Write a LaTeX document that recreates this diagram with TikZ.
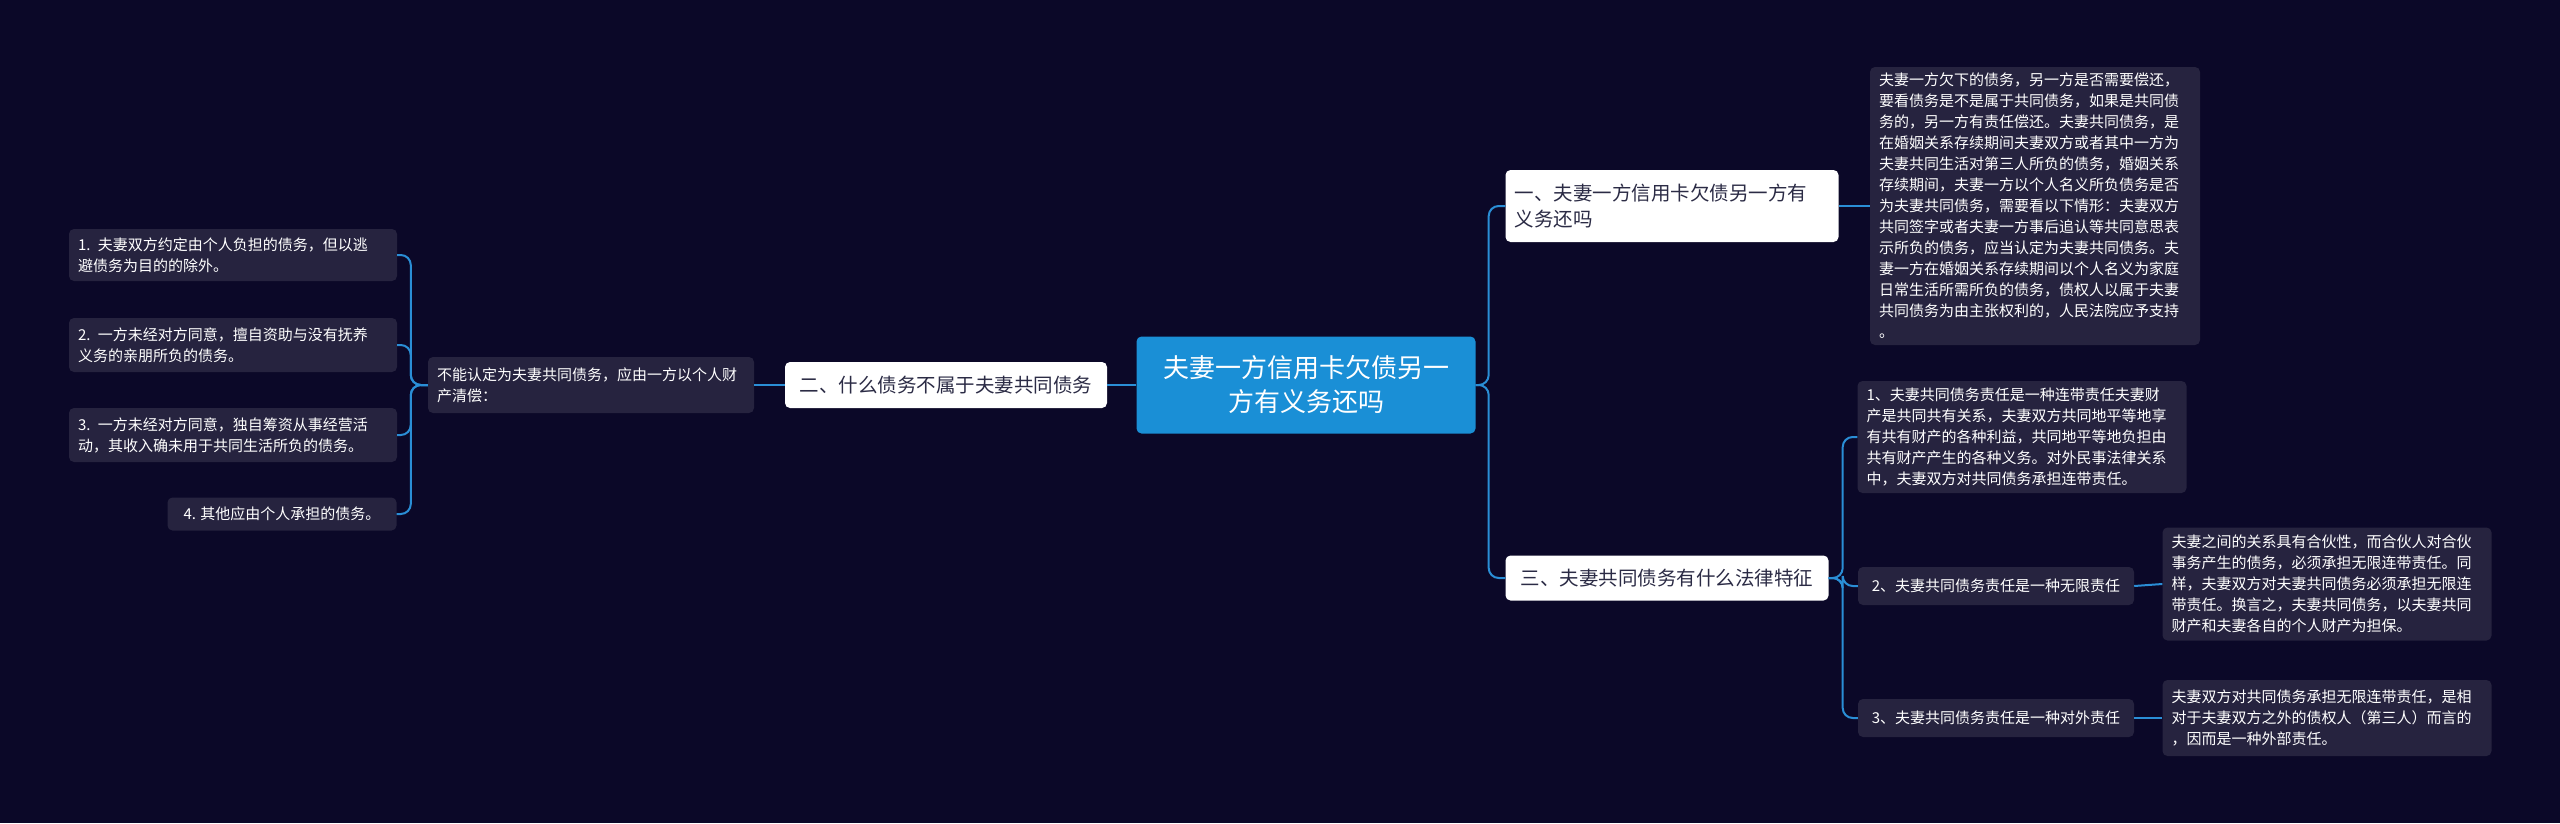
\documentclass[tikz,border=0pt]{standalone}
\usepackage{fontspec}
\setmainfont{Noto Sans CJK SC}
\definecolor{bg}{HTML}{0B0828}
\definecolor{boxc}{HTML}{26233F}
\definecolor{rootc}{HTML}{1A8FD6}
\definecolor{linec}{HTML}{2A8ED6}
\definecolor{darktxt}{HTML}{2B2B45}
\begin{document}
\begin{tikzpicture}[x=1pt,y=-1pt,
  small/.style={fill=boxc,text=white,rounded corners=5pt,inner xsep=9pt,inner ysep=4pt,align=left,font=\fontsize{15}{21}\selectfont},
  sub/.style={fill=white,text=darktxt,rounded corners=5pt,inner xsep=9pt,align=left,font=\fontsize{19.5}{26}\selectfont},
  rootn/.style={fill=rootc,text=white,rounded corners=5pt,align=center,font=\fontsize{26}{34}\selectfont},
  conn/.style={draw=linec,line width=2pt,rounded corners=10pt}]
\fill[bg] (0,0) rectangle (2560,823);
\useasboundingbox (0,0) rectangle (2560,823);
\node[rootn,minimum width=339pt,minimum height=97pt] (root) at (1306,385) {夫妻一方信用卡欠债另一\\方有义务还吗};
\node[sub,minimum width=333pt,minimum height=72pt,text width=315pt] (n1) at (1672,206) {一、夫妻一方信用卡欠债另一方有\\义务还吗};
\node[sub,minimum width=322pt,minimum height=46pt] (n2) at (946,385) {二、什么债务不属于夫妻共同债务};
\node[sub,minimum width=323pt,minimum height=45pt] (n3) at (1667,578) {三、夫妻共同债务有什么法律特征};
\node[small,minimum width=330pt,minimum height=278pt,text width=312pt] (d1) at (2035,206) {夫妻一方欠下的债务，另一方是否需要偿还，\\要看债务是不是属于共同债务，如果是共同债\\务的，另一方有责任偿还。夫妻共同债务，是\\在婚姻关系存续期间夫妻双方或者其中一方为\\夫妻共同生活对第三人所负的债务，婚姻关系\\存续期间，夫妻一方以个人名义所负债务是否\\为夫妻共同债务，需要看以下情形：夫妻双方\\共同签字或者夫妻一方事后追认等共同意思表\\示所负的债务，应当认定为夫妻共同债务。夫\\妻一方在婚姻关系存续期间以个人名义为家庭\\日常生活所需所负的债务，债权人以属于夫妻\\共同债务为由主张权利的，人民法院应予支持\\。};
\node[small,minimum width=329pt,minimum height=112pt,text width=311pt] (c1) at (2022,437) {1、夫妻共同债务责任是一种连带责任夫妻财\\产是共同共有关系，夫妻双方共同地平等地享\\有共有财产的各种利益，共同地平等地负担由\\共有财产产生的各种义务。对外民事法律关系\\中，夫妻双方对共同债务承担连带责任。};
\node[small,minimum width=276pt,minimum height=38pt] (c2) at (1996,586) {2、夫妻共同债务责任是一种无限责任};
\node[small,minimum width=329pt,minimum height=113pt,text width=311pt] (d2) at (2327,584) {夫妻之间的关系具有合伙性，而合伙人对合伙\\事务产生的债务，必须承担无限连带责任。同\\样，夫妻双方对夫妻共同债务必须承担无限连\\带责任。换言之，夫妻共同债务，以夫妻共同\\财产和夫妻各自的个人财产为担保。};
\node[small,minimum width=276pt,minimum height=38pt] (c3) at (1996,718) {3、夫妻共同债务责任是一种对外责任};
\node[small,minimum width=329pt,minimum height=76pt,text width=311pt] (d3) at (2327,718) {夫妻双方对共同债务承担无限连带责任，是相\\对于夫妻双方之外的债权人（第三人）而言的\\，因而是一种外部责任。};
\node[small,minimum width=326pt,minimum height=56pt,text width=308pt] (ch) at (591,385) {不能认定为夫妻共同债务，应由一方以个人财\\产清偿：};
\node[small,minimum width=328pt,minimum height=52pt,text width=310pt] (l1) at (233,255) {1. 夫妻双方约定由个人负担的债务，但以逃\\避债务为目的的除外。};
\node[small,minimum width=328pt,minimum height=54pt,text width=310pt] (l2) at (233,345) {2. 一方未经对方同意，擅自资助与没有抚养\\义务的亲朋所负的债务。};
\node[small,minimum width=328pt,minimum height=54pt,text width=310pt] (l3) at (233,435) {3. 一方未经对方同意，独自筹资从事经营活\\动，其收入确未用于共同生活所负的债务。};
\node[small,minimum width=229pt,minimum height=33pt] (l4) at (282,514) {4. 其他应由个人承担的债务。};
\foreach \t in {n1,n3} \draw[conn] (root.east) -- ++(13,0) |- (\t.west);
\draw[conn] (n1.east) -- (d1.west);
\foreach \t in {c1,c2,c3} \draw[conn] (n3.east) -- ++(14,0) |- (\t.west);
\draw[conn] (c2.east) -- (d2.west);
\draw[conn] (c3.east) -- (d3.west);
\draw[conn] (root.west) -- (n2.east);
\draw[conn] (n2.west) -- (ch.east);
\foreach \t in {l1,l2,l3,l4} \draw[conn] (ch.west) -- ++(-17,0) |- (\t.east);
\end{tikzpicture}
\end{document}
